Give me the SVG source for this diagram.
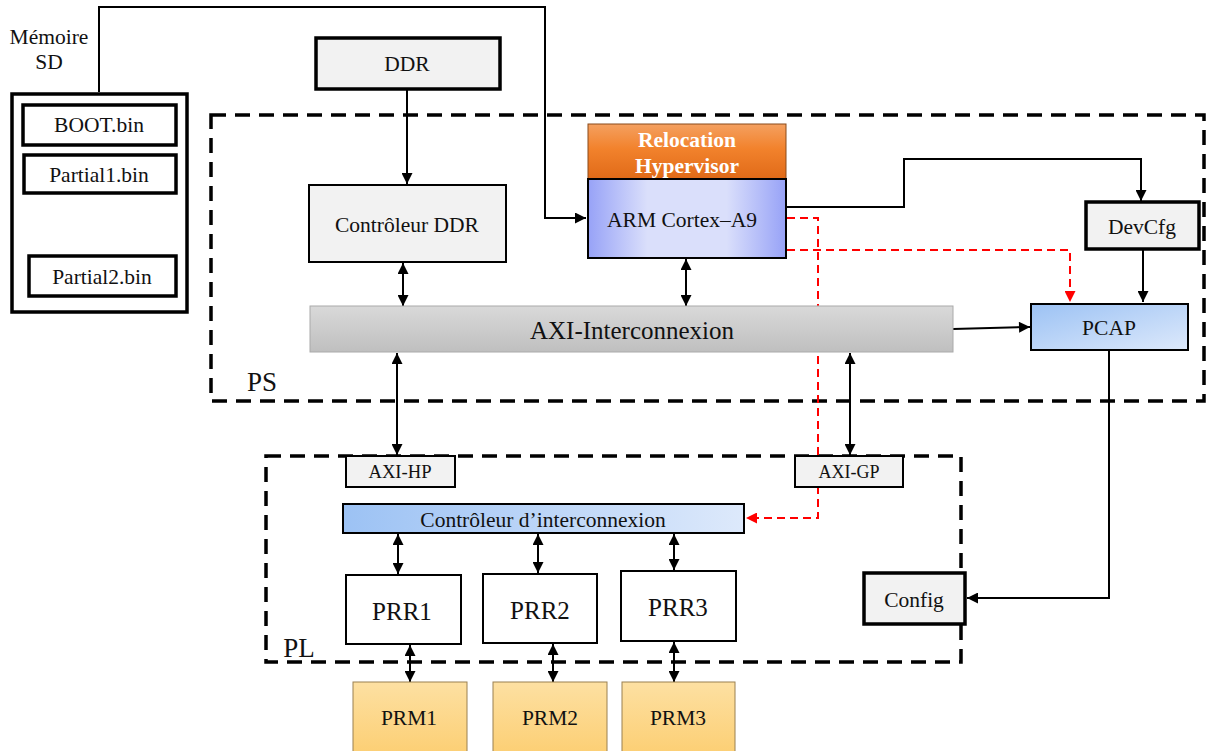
<svg xmlns="http://www.w3.org/2000/svg" width="1214" height="751" viewBox="0 0 1214 751" font-family="'Liberation Serif', serif">
<style>
text{fill:#111;text-anchor:middle;dominant-baseline:central}
.t17{font-size:21.5px}
.t14{font-size:18px}
.t20{font-size:25px}
.t22{font-size:27px}
.box{fill:#f2f2f2;stroke:#000;stroke-width:2}
.thick{fill:#f2f2f2;stroke:#000;stroke-width:3.5}
.white{fill:#fff;stroke:#000;stroke-width:3.5}
.wb{fill:#fff;stroke:#000;stroke-width:2}
.zone{fill:none;stroke:#000;stroke-width:3.5;stroke-dasharray:15 9}
.ln{fill:none;stroke:#000;stroke-width:2}
.red{fill:none;stroke:#f00;stroke-width:2;stroke-dasharray:8 5}
</style>
<defs>
<marker id="ah" viewBox="0 0 10 10" refX="10" refY="5" markerWidth="13" markerHeight="11" markerUnits="userSpaceOnUse" orient="auto-start-reverse"><path d="M0,0 L10,5 L0,10 z" fill="#000"/></marker>
<marker id="ar" viewBox="0 0 10 10" refX="10" refY="5" markerWidth="13" markerHeight="11" markerUnits="userSpaceOnUse" orient="auto-start-reverse"><path d="M0,0 L10,5 L0,10 z" fill="#f00"/></marker>
<linearGradient id="gAxi" x1="0" y1="0" x2="0" y2="1"><stop offset="0" stop-color="#d9d9d9"/><stop offset="1" stop-color="#bfbfbf"/></linearGradient>
<linearGradient id="gOr" x1="0" y1="0" x2="0" y2="1"><stop offset="0" stop-color="#f4a060"/><stop offset="0.45" stop-color="#f2822c"/><stop offset="1" stop-color="#e06a18"/></linearGradient>
<linearGradient id="gArm" x1="0" y1="0" x2="1" y2="0"><stop offset="0" stop-color="#97a2f7"/><stop offset="0.3" stop-color="#dadffb"/><stop offset="0.7" stop-color="#dadffb"/><stop offset="1" stop-color="#97a2f7"/></linearGradient>
<linearGradient id="gBlue" x1="0" y1="0" x2="1" y2="1"><stop offset="0" stop-color="#9cc2f4"/><stop offset="1" stop-color="#dde9fb"/></linearGradient>
<linearGradient id="gBlueH" x1="0" y1="0" x2="1" y2="0"><stop offset="0" stop-color="#9cc2f4"/><stop offset="1" stop-color="#dde9fb"/></linearGradient>
<linearGradient id="gPrm" x1="0" y1="0" x2="0" y2="1"><stop offset="0" stop-color="#fde0a2"/><stop offset="1" stop-color="#fccf74"/></linearGradient>
</defs>

<!-- zones -->
<g id="zone-ps">
<rect class="zone" x="211" y="115" width="993" height="286"/>
<text class="t22" x="262" y="382">PS</text>
</g>
<g id="zone-pl">
<rect class="zone" x="266" y="456" width="695" height="206"/>
<text class="t22" x="299" y="648">PL</text>
</g>

<g id="connectors">
<path class="ln" d="M99,92 V7 H545 V218 H586" marker-end="url(#ah)"/>
<path class="ln" d="M407,89 V184" marker-end="url(#ah)"/>
<path class="ln" d="M403,263 V306" marker-start="url(#ah)" marker-end="url(#ah)"/>
<path class="ln" d="M686,259 V306" marker-start="url(#ah)" marker-end="url(#ah)"/>
<path class="ln" d="M786,207 H904 V159 H1141 V201" marker-end="url(#ah)"/>
<path class="ln" d="M1143,250 V302" marker-end="url(#ah)"/>
<path class="ln" d="M953,329 L1030,327" marker-end="url(#ah)"/>
<path class="ln" d="M1109,351 V598 H967" marker-end="url(#ah)"/>
<path class="ln" d="M397,353 V455" marker-start="url(#ah)" marker-end="url(#ah)"/>
<path class="ln" d="M850,353 V455" marker-start="url(#ah)" marker-end="url(#ah)"/>
<path class="ln" d="M398,534 V574" marker-start="url(#ah)" marker-end="url(#ah)"/>
<path class="ln" d="M538,534 V573" marker-start="url(#ah)" marker-end="url(#ah)"/>
<path class="ln" d="M674,534 V570" marker-start="url(#ah)" marker-end="url(#ah)"/>
<path class="ln" d="M410,645 V682" marker-start="url(#ah)" marker-end="url(#ah)"/>
<path class="ln" d="M553,644 V682" marker-start="url(#ah)" marker-end="url(#ah)"/>
<path class="ln" d="M674,642 V682" marker-start="url(#ah)" marker-end="url(#ah)"/>
<path class="red" d="M787,250 H1070 V302" marker-end="url(#ar)"/>
<path class="red" d="M787,218 H818 V518 H746" marker-end="url(#ar)"/>
</g>

<g id="memoire-sd">
<text class="t17" x="49" y="37">Mémoire</text>
<text class="t17" x="49" y="62">SD</text>
<rect class="white" x="12" y="94" width="175" height="218"/>
</g>
<g id="boot"><rect class="white" x="23" y="105" width="153" height="40"/><text class="t17" x="99" y="125">BOOT.bin</text></g>
<g id="partial1"><rect class="white" x="24" y="155" width="152" height="38"/><text class="t17" x="99" y="175">Partial1.bin</text></g>
<g id="partial2"><rect class="white" x="29" y="256" width="147" height="40"/><text class="t17" x="102" y="277">Partial2.bin</text></g>

<g id="ddr"><rect class="thick" x="316" y="38" width="184" height="51"/><text class="t17" x="407" y="64">DDR</text></g>
<g id="ctrl-ddr"><rect class="box" x="309" y="185" width="197" height="77"/><text class="t17" x="407" y="225">Contrôleur DDR</text></g>

<g id="hypervisor">
<rect x="588" y="124" width="198" height="55" fill="url(#gOr)" stroke="#8a4a1a" stroke-width="1"/>
<text class="t17" x="687" y="140" style="fill:#fff;font-weight:bold">Relocation</text>
<text class="t17" x="687" y="166" style="fill:#fff;font-weight:bold">Hypervisor</text>
</g>
<g id="arm"><rect x="588" y="179" width="198" height="79" fill="url(#gArm)" stroke="#000" stroke-width="2"/><text class="t17" x="682" y="220">ARM Cortex–A9</text></g>

<g id="axi"><rect x="310" y="306" width="643" height="46" fill="url(#gAxi)" stroke="#aaa" stroke-width="1"/><text x="632" y="330" style="font-size:25px">AXI-Interconnexion</text></g>

<g id="devcfg"><rect class="thick" x="1086" y="202" width="113" height="47"/><text class="t17" x="1142" y="227">DevCfg</text></g>
<g id="pcap"><rect x="1031" y="304" width="157" height="46" fill="url(#gBlue)" stroke="#000" stroke-width="2"/><text class="t17" x="1109" y="328">PCAP</text></g>
<g id="config"><rect class="thick" x="864" y="573" width="101" height="51"/><text class="t17" x="914" y="600">Config</text></g>

<g id="axi-hp"><rect class="box" x="346" y="456" width="109" height="31"/><text class="t14" x="400" y="472" textLength="63" lengthAdjust="spacingAndGlyphs">AXI-HP</text></g>
<g id="axi-gp"><rect class="box" x="795" y="456" width="108" height="31"/><text class="t14" x="849" y="472" textLength="61" lengthAdjust="spacingAndGlyphs">AXI-GP</text></g>

<g id="ctrl-inter"><rect x="343" y="504" width="401" height="29" fill="url(#gBlueH)" stroke="#000" stroke-width="2"/><text class="t17" x="543" y="520">Contrôleur d’interconnexion</text></g>

<g id="prr1"><rect class="wb" x="346" y="575" width="115" height="69"/><text class="t20" x="402" y="611">PRR1</text></g>
<g id="prr2"><rect class="wb" x="483" y="574" width="114" height="69"/><text class="t20" x="540" y="610">PRR2</text></g>
<g id="prr3"><rect class="wb" x="621" y="571" width="115" height="70"/><text class="t20" x="678" y="607">PRR3</text></g>

<g id="prm1"><rect x="353" y="682" width="114" height="72" fill="url(#gPrm)" stroke="#9a8050" stroke-width="1"/><text class="t17" x="409" y="718">PRM1</text></g>
<g id="prm2"><rect x="493" y="682" width="114" height="72" fill="url(#gPrm)" stroke="#9a8050" stroke-width="1"/><text class="t17" x="550" y="718">PRM2</text></g>
<g id="prm3"><rect x="622" y="682" width="113" height="72" fill="url(#gPrm)" stroke="#9a8050" stroke-width="1"/><text class="t17" x="678" y="718">PRM3</text></g>
</svg>
